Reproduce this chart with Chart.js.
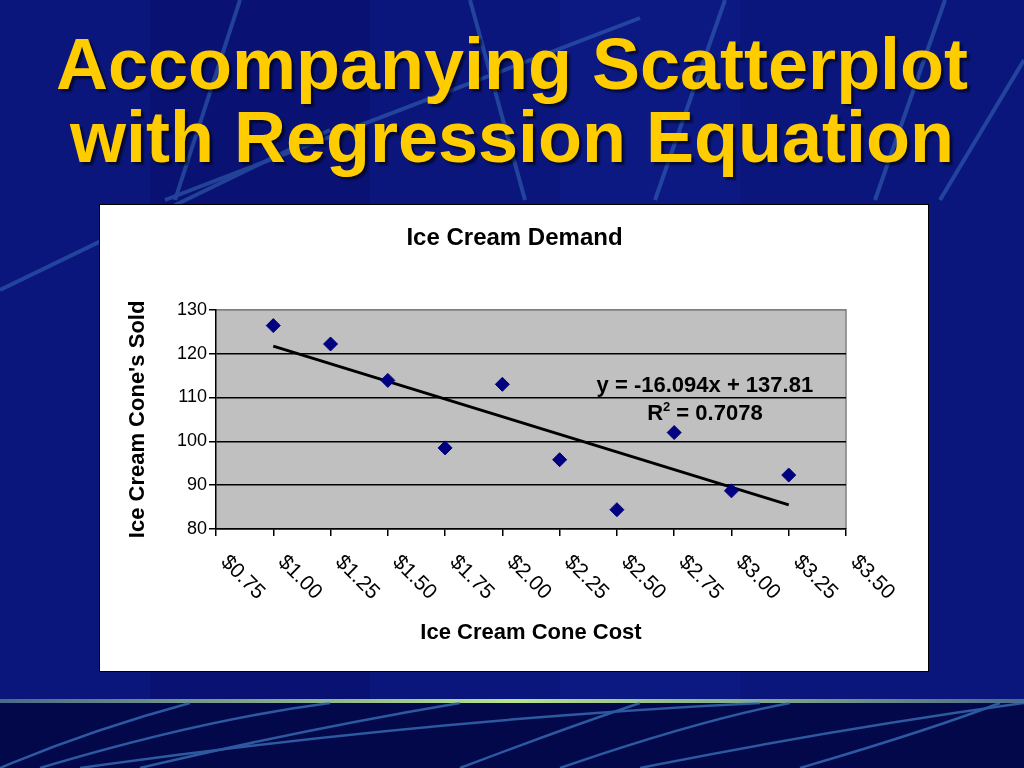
<!DOCTYPE html>
<html>
<head>
<meta charset="utf-8">
<title>Accompanying Scatterplot with Regression Equation</title>
<script src="https://cdn.jsdelivr.net/npm/chart.js@4.4.1/dist/chart.umd.min.js"></script>
<style>
	html, body { margin: 0; padding: 0; }
	body {
		width: 1024px; height: 768px; overflow: hidden; position: relative;
		background: #0b167c;
		font-family: "Liberation Sans", Arial, sans-serif;
	}
	#decor { position: absolute; left: 0; top: 0; }
	h1 {
		position: absolute; left: 0; top: 28px; width: 1024px; margin: 0;
		text-align: center; font-size: 72px; line-height: 73px; font-weight: bold;
		color: #ffcc00; text-shadow: 3px 3px 2px rgba(0, 0, 0, 0.55);
	}
	#box {
		position: absolute; left: 99px; top: 204px; width: 830px; height: 468px;
		box-sizing: border-box; border: 1.5px solid #000; background: #fff;
	}
	#wrap { position: absolute; left: 101px; top: 205px; width: 827px; height: 466px; }
</style>
</head>
<body>
<svg id="decor" width="1024" height="768">
	<defs>
		<linearGradient id="glow" x1="0" x2="1" y1="0" y2="0">
			<stop offset="0" stop-color="#4a6a8a" />
			<stop offset="0.5" stop-color="#b6e38e" />
			<stop offset="1" stop-color="#4a6a8a" />
		</linearGradient>
	</defs>
	<rect x="150" y="0" width="220" height="700" fill="#08106e" opacity="0.6" />
	<rect x="560" y="0" width="180" height="700" fill="#0d1c88" opacity="0.5" />
	<g stroke="#3f7cc4" stroke-width="4" opacity="0.45" fill="none">
		<line x1="0" y1="290" x2="330" y2="130" />
		<line x1="165" y1="200" x2="640" y2="18" />
		<line x1="240" y1="0" x2="175" y2="200" />
		<line x1="470" y1="0" x2="525" y2="200" />
		<line x1="725" y1="0" x2="655" y2="200" />
		<line x1="945" y1="0" x2="875" y2="200" />
		<line x1="1024" y1="60" x2="940" y2="200" />
	</g>
	<rect x="0" y="702" width="1024" height="66" fill="#02084a" />
	<rect x="0" y="699" width="1024" height="4" fill="url(#glow)" />
	<g stroke="#3f7cc4" stroke-width="2.5" opacity="0.7" fill="none">
		<path d="M0 768 Q 90 730 190 703" />
		<path d="M40 768 Q 200 720 330 703" />
		<path d="M140 768 Q 300 730 460 703" />
		<path d="M80 768 Q 420 720 760 703" />
		<path d="M460 768 Q 560 730 640 703" />
		<path d="M560 768 Q 700 720 790 703" />
		<path d="M640 768 Q 830 730 1024 703" />
		<path d="M800 768 Q 930 730 1000 703" />
	</g>
</svg>

<h1>Accompanying Scatterplot<br>with Regression Equation</h1>

<div id="box"></div>
<div id="wrap"><canvas id="chart"></canvas></div>

<script>
"use strict";

const costs = [1.0, 1.25, 1.5, 1.75, 2.0, 2.25, 2.5, 2.75, 3.0, 3.25];
const conesSold = [126.4, 122.2, 113.9, 98.5, 113.0, 95.8, 84.4, 102.0, 88.7, 92.3];
const trendX = [1.0, 3.25];
const trendY = [121.7, 85.5];
const xTickLabels = ["$0.75", "$1.00", "$1.25", "$1.50", "$1.75", "$2.00", "$2.25", "$2.50", "$2.75", "$3.00", "$3.25", "$3.50"];
const equationLine = "y = -16.094x + 137.81";
const rSquared = "0.7078";

const FONT = "'Liberation Sans', Arial, sans-serif";

// grey plot area with a grey frame on top and right, like the Excel chart
const plotBackground = {
	id: "plotBackground",
	beforeDraw(chart) {
		const { ctx, chartArea: a } = chart;
		ctx.save();
		ctx.fillStyle = "#c0c0c0";
		ctx.fillRect(a.left, a.top, a.right - a.left, a.bottom - a.top);
		ctx.strokeStyle = "#808080";
		ctx.lineWidth = 1.5;
		ctx.beginPath();
		ctx.moveTo(a.left, a.top);
		ctx.lineTo(a.right, a.top);
		ctx.lineTo(a.right, a.bottom);
		ctx.stroke();
		ctx.restore();
	},
};

// x labels slant down to the right, which chart.js won't do by itself
const slantedXLabels = {
	id: "slantedXLabels",
	afterDraw(chart) {
		const { ctx, chartArea } = chart;
		const scale = chart.scales.x;
		ctx.save();
		ctx.fillStyle = "#000";
		ctx.font = `21px ${FONT}`;
		ctx.textAlign = "left";
		ctx.textBaseline = "middle";
		scale.ticks.forEach((tick, i) => {
			const px = scale.getPixelForValue(tick.value);
			ctx.save();
			ctx.translate(px + 8, chartArea.bottom + 30);
			ctx.rotate(Math.PI / 4);
			ctx.fillText(xTickLabels[i] ?? "", 0, 0);
			ctx.restore();
		});
		ctx.restore();
	},
};

const equationLabel = {
	id: "equationLabel",
	afterDatasetsDraw(chart) {
		const { ctx } = chart;
		const x = chart.scales.x.getPixelForValue(2.884);
		const y1 = chart.scales.y.getPixelForValue(111.2);
		const y2 = chart.scales.y.getPixelForValue(104.8);
		ctx.save();
		ctx.fillStyle = "#000";
		ctx.textBaseline = "alphabetic";
		ctx.font = `bold 22px ${FONT}`;
		ctx.textAlign = "center";
		ctx.fillText(equationLine, x, y1);

		ctx.textAlign = "left";
		const rest = " = " + rSquared;
		const wR = ctx.measureText("R").width;
		const wRest = ctx.measureText(rest).width;
		ctx.font = `bold 13px ${FONT}`;
		const wSup = ctx.measureText("2").width;
		let start = x - (wR + wSup + wRest) / 2;
		ctx.font = `bold 22px ${FONT}`;
		ctx.fillText("R", start, y2);
		ctx.font = `bold 13px ${FONT}`;
		ctx.fillText("2", start + wR, y2 - 9);
		ctx.font = `bold 22px ${FONT}`;
		ctx.fillText(rest, start + wR + wSup, y2);
		ctx.restore();
	},
};

const axisTitleFont = { family: FONT, size: 22, weight: "bold" };

new Chart(document.getElementById("chart"), {
	type: "scatter",
	data: {
		datasets: [
			{
				label: "Cones sold",
				data: costs.map((x, i) => ({ x, y: conesSold[i] })),
				pointStyle: "rectRot",
				pointRadius: 7,
				backgroundColor: "#000080",
				borderColor: "#000080",
				borderWidth: 1,
				order: 0,
			},
			{
				label: "Linear trend",
				data: trendX.map((x, i) => ({ x, y: trendY[i] })),
				showLine: true,
				borderColor: "#000",
				borderWidth: 3,
				pointRadius: 0,
				order: 1,
			},
		],
	},
	options: {
		responsive: true,
		maintainAspectRatio: false,
		animation: false,
		layout: { padding: 0 },
		plugins: {
			legend: { display: false },
			tooltip: { enabled: false },
			title: {
				display: true,
				text: "Ice Cream Demand",
				color: "#000",
				font: { family: FONT, size: 24, weight: "bold" },
				padding: { top: 19, bottom: 57 },
			},
		},
		scales: {
			x: {
				type: "linear",
				min: 0.75,
				max: 3.5,
				ticks: { stepSize: 0.25, display: false },
				grid: { drawOnChartArea: false, drawTicks: true, tickLength: 7, color: "#000", lineWidth: 1.5 },
				border: { color: "#000", width: 1.5 },
				title: { display: true, text: "Ice Cream Cone Cost", color: "#000", font: axisTitleFont, padding: { top: 4, bottom: 25 } },
				afterFit(scale) {
					scale.height = 142;
				},
			},
			y: {
				min: 80,
				max: 130,
				ticks: { stepSize: 10, color: "#000", font: { family: FONT, size: 18 }, padding: 2 },
				grid: {
					color: (ctx) => (ctx.tick && ctx.tick.value === 130 ? "#808080" : "#000"),
					tickColor: "#000",
					lineWidth: 1.5,
					tickLength: 7,
				},
				border: { color: "#000", width: 1.5 },
				title: { display: true, text: "Ice Cream Cone's Sold", color: "#000", font: axisTitleFont, padding: { top: 24, bottom: 0 } },
				afterFit(scale) {
					scale.width = 115;
				},
			},
			y2: {
				position: "right",
				grid: { display: false },
				ticks: { display: false },
				border: { display: false },
				afterFit(scale) {
					scale.width = 82;
				},
			},
		},
	},
	plugins: [plotBackground, slantedXLabels, equationLabel],
});
</script>
</body>
</html>
